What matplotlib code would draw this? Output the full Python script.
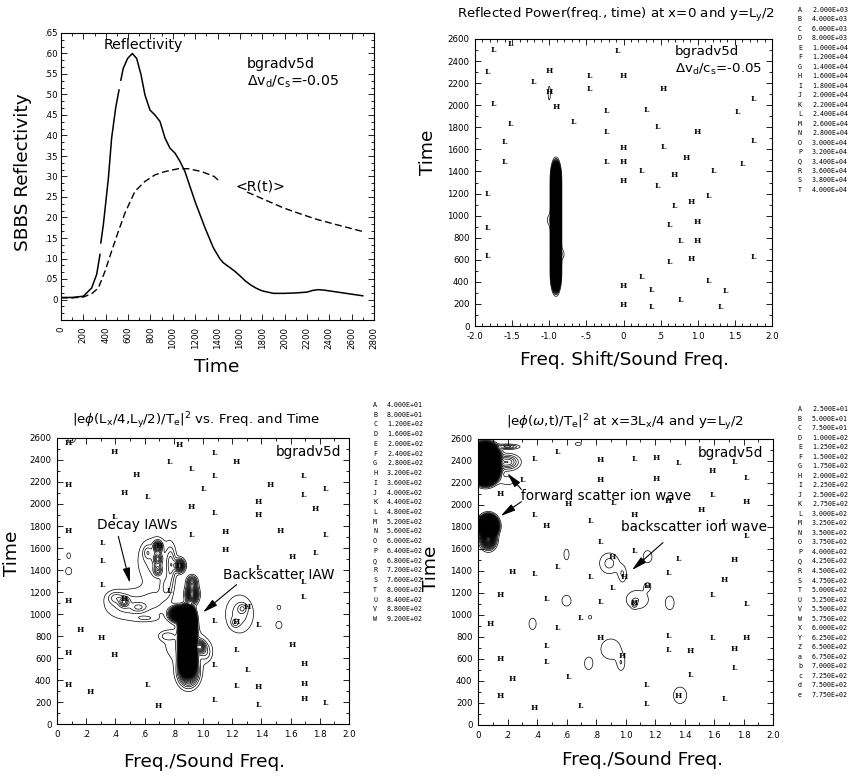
import numpy as np
import matplotlib
matplotlib.use("Agg")
import matplotlib.pyplot as plt
from matplotlib.ticker import MultipleLocator, FuncFormatter

# ---- reflectivity history -------------------------------------------------
refl_t = [0, 100, 200, 274, 319, 349, 356, 379, 424, 453, 489, 519, 535, 557, 596, 638,
          677, 716, 751, 796, 841, 886, 930, 975, 1020, 1064, 1109, 1199, 1288, 1363,
          1420, 1450, 1500, 1550, 1600, 1650, 1700, 1750, 1800, 1850, 1900, 1950, 2000,
          2100, 2200, 2250, 2300, 2350, 2400, 2450, 2500, 2600, 2700]
refl = [0.005, 0.005, 0.008, 0.028, 0.061, 0.11, 0.138, 0.183, 0.296, 0.394, 0.467,
        0.511, 0.535, 0.564, 0.588, 0.600, 0.588, 0.548, 0.499, 0.462, 0.450, 0.434,
        0.394, 0.369, 0.357, 0.337, 0.312, 0.239, 0.175, 0.126, 0.10, 0.09, 0.08, 0.07,
        0.058, 0.045, 0.035, 0.027, 0.021, 0.018, 0.015, 0.015, 0.015, 0.016, 0.018,
        0.022, 0.024, 0.023, 0.021, 0.019, 0.017, 0.013, 0.009]
# the solid trace is broken where the plotter left room for line labels
refl_breaks = [(349, 356), (519, 535)]
ravg_t = [0, 100, 200, 274, 334, 394, 453, 513, 572, 662, 751, 841, 930, 1049, 1139,
          1258, 1371, 1410, 1665, 1725, 1850, 1994, 2150, 2293, 2500, 2697]
ravg = [0.004, 0.004, 0.006, 0.014, 0.028, 0.069, 0.118, 0.166, 0.211, 0.264, 0.288,
        0.304, 0.312, 0.319, 0.319, 0.312, 0.300, 0.290, 0.262, 0.255, 0.240,
        0.223, 0.208, 0.195, 0.180, 0.166]
ravg_break = (1410, 1665)

# ---- contour level tables ----------------------------------------------------
lev_refl = [2000, 4000, 6000, 8000, 10000, 12000, 14000, 16000, 18000, 20000, 22000,
            24000, 26000, 28000, 30000, 32000, 34000, 36000, 38000, 40000]
lev_quarter = [40, 80, 120, 160, 200, 240, 280, 320, 360, 400, 440, 480, 520, 560, 600,
               640, 680, 720, 760, 800, 840, 880, 920]
lev_three = [25, 50, 75, 100, 125, 150, 175, 200, 225, 250, 275, 300, 325, 350, 375,
             400, 425, 450, 475, 500, 525, 550, 575, 600, 625, 650, 675, 700, 725, 750, 775]
tags_refl = list("ABCDEFGHIJKLMNOPQRST")
tags_quarter = list("ABCDEFGHIJKLMNOPQRSTUVW")
tags_three = list("ABCDEFGHIJKLMNOPQRSTUVWXYZabcde")

# ---- spectral peaks: (x, t, width in x, width in t, height) ------------------
refl_peaks = [
    (-0.91, 470, 0.035, 90, 3e5), (-0.91, 593, 0.035, 90, 3e5),
    (-0.91, 716, 0.035, 90, 3e5), (-0.91, 839, 0.035, 90, 3e5),
    (-0.91, 962, 0.035, 90, 3e5), (-0.91, 1085, 0.035, 90, 3e5),
    (-0.91, 1208, 0.035, 90, 3e5), (-0.91, 1330, 0.035, 90, 3e5),
    (-1.00, 2110, 0.03, 120, 2.6e3), (-1.00, 960, 0.04, 60, 3e3),
    (-0.82, 650, 0.03, 50, 3e3),
]

quarter_peaks = [
    # backscatter IAW column
    (0.895, 560, 0.03, 70, 9000), (0.895, 640, 0.03, 70, 9000),
    (0.895, 720, 0.03, 70, 9000), (0.895, 800, 0.03, 70, 9000),
    (0.895, 880, 0.03, 70, 9000), (0.895, 950, 0.03, 70, 9000),
    (0.90, 470, 0.06, 110, 500), (0.84, 1000, 0.05, 50, 1500),
    (0.925, 1180, 0.035, 70, 600), (0.925, 1290, 0.03, 50, 300),
    (0.84, 1440, 0.03, 50, 450), (0.98, 700, 0.03, 50, 350),
    (0.88, 720, 0.15, 180, 90), (0.75, 800, 0.05, 40, 80), (1.02, 650, 0.04, 80, 90),
    # decay IAWs
    (0.69, 1610, 0.025, 45, 350), (0.69, 1500, 0.025, 45, 250),
    (0.69, 1400, 0.025, 45, 200), (0.67, 1480, 0.12, 220, 100),
    (0.78, 1450, 0.03, 150, 150), (0.62, 1560, 0.03, 60, 90),
    (0.75, 1250, 0.04, 100, 100), (0.46, 1110, 0.03, 40, 200),
    (0.48, 1085, 0.16, 140, 100), (0.40, 1150, 0.05, 50, 90),
    (0.56, 1060, 0.05, 40, 90), (0.61, 960, 0.08, 30, 60),
    (0.68, 1120, 0.10, 120, 70),
    # side peaks
    (1.27, 1050, 0.03, 40, 90), (1.22, 920, 0.025, 35, 90),
    (1.25, 1000, 0.10, 180, 100), (1.52, 900, 0.025, 40, 80),
    (1.52, 1060, 0.02, 30, 60), (0.08, 1390, 0.025, 40, 80),
    (0.08, 1530, 0.02, 40, 60), (0.10, 2590, 0.04, 50, 60),
]

three_peaks = [
    # forward scatter near zero frequency
    (0.05, 2310, 0.05, 70, 6000), (0.05, 2380, 0.05, 70, 6000),
    (0.05, 2440, 0.05, 70, 6000), (0.20, 2390, 0.07, 60, 150),
    (0.20, 2530, 0.07, 20, 110), (0.20, 2220, 0.07, 50, 40),
    (0.07, 1810, 0.04, 60, 3000), (0.07, 1690, 0.04, 70, 500),
    # backscatter ion wave and scattered patches
    (0.89, 1470, 0.07, 100, 60), (0.98, 1370, 0.03, 80, 50),
    (1.08, 1140, 0.09, 100, 50), (1.06, 1100, 0.015, 30, 60),
    (1.15, 1260, 0.025, 40, 45), (0.90, 690, 0.08, 110, 50),
    (0.97, 560, 0.03, 80, 45), (1.37, 270, 0.058, 97, 45),
    (1.30, 1110, 0.043, 90, 40), (1.15, 1530, 0.043, 80, 40),
    (0.75, 560, 0.04, 80, 40), (0.37, 920, 0.035, 75, 40),
    (0.60, 1130, 0.045, 70, 40), (0.60, 1550, 0.025, 70, 40),
    (0.68, 2555, 0.03, 20, 40), (0.76, 980, 0.015, 25, 40),
]

# ---- highs and lows marked on the plots -------------------------------------
refl_Hx = [-1.0, 0.0, -0.91, 0.53, 0.99, 0.0, 0.0, 0.84, 0.0, 0.68, 0.91, 0.99, 0.99,
           0.91, 0.0, 0.0, -1.0]
refl_Ht = [2313, 2261, 1983, 2147, 1753, 1611, 1490, 1521, 1315, 1364, 1122, 946, 774,
           611, 366, 190, 2116]
refl_Lx = [-1.75, -1.52, -0.08, -1.83, -1.21, -0.46, -0.46, -1.75, -0.23, 0.31, -1.52,
           -0.68, 0.46, -0.23, -1.60, 0.53, -1.60, -0.23, 0.24, 0.46, -1.83, 0.69, -1.83,
           0.61, 0.76, -1.83, 0.61, 0.24, 0.38, 0.76, 0.38, 1.14, 1.37, 1.30, 1.21, 1.14,
           1.60, 1.53, 1.75, 1.75, 1.75]
refl_Lt = [2503, 2555, 2494, 2298, 2207, 2267, 2147, 2014, 1950, 1959, 1829, 1850, 1805,
           1753, 1663, 1623, 1484, 1490, 1400, 1264, 1194, 1085, 892, 913, 771, 638, 580,
           441, 330, 233, 175, 408, 314, 169, 1406, 1179, 1469, 1941, 2056, 1672, 623]

quarter_Hx = [0.08, 0.39, 0.84, 1.23, 0.54, 0.08, 0.46, 1.46, 1.38, 0.92, 1.38, 1.77,
              0.08, 1.15, 1.53, 1.15, 1.61, 0.08, 0.16, 0.30, 0.08, 0.39, 1.61, 1.69,
              1.69, 0.08, 0.23, 1.38, 1.69, 0.69, 0.46, 0.70, 0.84, 1.30, 1.23]
quarter_Ht = [2554, 2469, 2539, 2379, 2267, 2176, 2097, 2170, 2015, 1973, 1897, 1957,
              1751, 1745, 1751, 1585, 1515, 1115, 857, 782, 645, 624, 721, 545, 364, 358,
              288, 336, 227, 167, 1136, 1615, 1433, 1064, 924]
quarter_Lx = [0.77, 0.92, 1.08, 1.08, 1.00, 0.62, 1.69, 1.69, 1.84, 1.08, 0.39, 0.31,
              0.31, 0.92, 1.84, 1.77, 1.38, 1.69, 1.69, 0.31, 0.77, 1.08, 1.38, 1.23,
              1.08, 1.30, 0.62, 1.23, 1.38, 1.08, 1.84]
quarter_Lt = [2379, 2318, 2464, 2257, 2136, 2061, 2257, 2085, 2139, 1918, 1879, 1645,
              1485, 1715, 1715, 1554, 1418, 1291, 1157, 1261, 1206, 939, 903, 676, 533,
              494, 358, 342, 176, 215, 191]

three_Hx = [0.83, 1.21, 0.83, 1.21, 1.59, 1.82, 0.61, 1.29, 1.51, 1.06, 0.46, 0.15,
            1.74, 1.67, 0.15, 0.08, 0.83, 1.82, 1.44, 1.74, 0.15, 0.23, 0.15, 0.38, 0.91,
            0.99, 0.98, 1.36, 1.15, 1.06, 0.23]
three_Ht = [2409, 2424, 2230, 2236, 2312, 2030, 2006, 2036, 1951, 1909, 1809, 2097, 1503,
            1321, 1179, 915, 794, 788, 673, 691, 597, 418, 267, 152, 1530, 1348, 627, 267,
            1264, 1106, 1394]
three_Lx = [0.54, 0.38, 1.06, 1.36, 1.74, 1.82, 0.30, 1.59, 0.92, 0.38, 0.76, 1.67, 1.82,
            0.83, 1.06, 1.36, 0.54, 0.38, 0.76, 1.29, 0.91, 0.46, 0.83, 1.59, 1.82, 0.54,
            0.69, 1.29, 1.59, 1.29, 0.46, 0.46, 1.74, 1.44, 0.61, 1.14, 1.14, 0.69, 1.67]
three_Lt = [2485, 2415, 2415, 2379, 2394, 2242, 2224, 2091, 2015, 1909, 1854, 1848, 1718,
            1661, 1585, 1509, 1439, 1369, 1348, 1385, 1245, 1145, 1115, 1182, 1097, 879,
            970, 809, 794, 682, 718, 576, 518, 458, 433, 364, 188, 173, 233]

# ---- figure ----------------------------------------------------------------
W, H = 850, 783
fig = plt.figure(figsize=(W / 100, H / 100), dpi=100)
LABEL = 13.3
NOTE = 9.8
TICK = 6.2


def rect(l, t, r, b):
    return [l / W, 1 - b / H, (r - l) / W, (b - t) / H]


def ftext(x, y, s, **kw):
    return fig.text(x / W, 1 - y / H, s, **kw)


def dot_label(v, pos):
    if abs(v) < 1e-9:
        return "0"
    s = f"{v:.1f}"
    return s.replace("0.", ".") if abs(v) < 1 else s


def style(ax, xmaj, xmin, ymaj, ymin, pad=3):
    ax.xaxis.set_major_locator(MultipleLocator(xmaj))
    ax.xaxis.set_minor_locator(MultipleLocator(xmin))
    ax.yaxis.set_major_locator(MultipleLocator(ymaj))
    ax.yaxis.set_minor_locator(MultipleLocator(ymin))
    ax.tick_params(which="both", direction="in", top=True, right=True,
                   labelsize=TICK, width=0.6, pad=pad)
    ax.tick_params(which="major", length=4)
    ax.tick_params(which="minor", length=2.5)
    for s in ax.spines.values():
        s.set_linewidth(0.8)


def peak_field(xg, tg, peaks):
    X, T = np.meshgrid(xg, tg)
    Z = np.zeros_like(X)
    for x0, t0, wx, wt, a in peaks:
        Z += a * np.exp(-((X - x0) / wx) ** 2 - ((T - t0) / wt) ** 2)
    return X, T, Z


def contours(ax, X, T, Z, levels):
    ax.contour(X, T, Z, levels=levels, colors="k", linewidths=0.5)
    if Z.max() > levels[-1]:
        ax.contourf(X, T, Z, levels=[levels[-1], Z.max() * 1.01], colors="k")


def marks(ax, xs, ts, ch):
    for x, t in zip(xs, ts):
        ax.text(x, t, ch, ha="center", va="center", fontsize=5.5,
                family="DejaVu Serif", weight="bold")


def level_list(x, y0, dy, tags, levels):
    for i, (c, v) in enumerate(zip(tags, levels)):
        ftext(x, y0 + i * dy, c, fontsize=4.8, family="DejaVu Sans Mono", va="center")
        ftext(x + 14, y0 + i * dy, f"{v:.3E}", fontsize=4.8,
              family="DejaVu Sans Mono", va="center")


def broken(t, v, gaps):
    # insert NaN between the two samples bounding each gap
    tt, vv = [], []
    for a, b in zip(t, v):
        for g0, g1 in gaps:
            if tt and tt[-1] == g0 and a == g1:
                tt.append(np.nan)
                vv.append(np.nan)
        tt.append(a)
        vv.append(b)
    return tt, vv


arrow = dict(arrowstyle="-|>,head_length=0.9,head_width=0.22", color="k", lw=0.8,
             mutation_scale=10, shrinkA=0, shrinkB=0)

# panel 1: reflectivity vs time
ax1 = fig.add_axes(rect(61, 33, 374, 320))
ax1.plot(*broken(refl_t, refl, refl_breaks), color="k", lw=1.1)
ax1.plot(*broken(ravg_t, ravg, [ravg_break]), color="k", lw=1.0, dashes=(5, 2.5))
ax1.set_xlim(0, 2800)
ax1.set_ylim(-0.05, 0.65)
style(ax1, 200, 100, 0.05, 0.05 / 3)
ax1.tick_params(axis="x", labelrotation=90, pad=5)
ax1.tick_params(axis="y", pad=2)
ax1.yaxis.set_major_formatter(FuncFormatter(
    lambda v, p: "" if v < -1e-9 else ("0" if abs(v) < 1e-9 else f"{v:.2f}".replace("0.", "."))))
ax1.text(380, 0.62, "Reflectivity", fontsize=10.2, va="center")
ax1.text(1665, 0.575, "bgradv5d", fontsize=10.2, va="center")
ax1.text(1665, 0.531, r"$\Delta$v$_{\rm d}$/c$_{\rm s}$=-0.05", fontsize=10.2, va="center")
ax1.text(1560, 0.276, "<R(t)>", fontsize=10.2, va="center")
ftext(217, 367, "Time", fontsize=LABEL, ha="center", va="center")
ftext(23, 172, "SBBS Reflectivity", fontsize=LABEL, ha="center", va="center", rotation=90)

# panel 2: reflected power spectrum
ax2 = fig.add_axes(rect(475, 39, 772, 326))
X, T, Z = peak_field(np.linspace(-2, 2, 900), np.linspace(0, 2600, 600), refl_peaks)
contours(ax2, X, T, Z, lev_refl)
marks(ax2, refl_Hx, refl_Ht, "H")
marks(ax2, refl_Lx, refl_Lt, "L")
ax2.set_xlim(-2, 2)
ax2.set_ylim(0, 2600)
style(ax2, 0.5, 0.1, 200, 100, pad=4)
ax2.xaxis.set_major_formatter(FuncFormatter(dot_label))
ax2.text(0.687, 2488, "bgradv5d", fontsize=9.6, va="center")
ax2.text(0.687, 2322, r"$\Delta$v$_{\rm d}$/c$_{\rm s}$=-0.05", fontsize=9.6, va="center")
ftext(616, 15, r"Reflected Power(freq., time) at x=0 and y=L$_{\rm y}$/2",
      fontsize=9.6, ha="center", va="center")
ftext(625, 360, "Freq. Shift/Sound Freq.", fontsize=LABEL, ha="center", va="center")
ftext(428, 152, "Time", fontsize=LABEL, ha="center", va="center", rotation=90)
level_list(798, 10, 9.47, tags_refl, lev_refl)

# panel 3: ion wave spectrum at Lx/4
ax3 = fig.add_axes(rect(57, 438, 349, 724))
X, T, Z = peak_field(np.linspace(0, 2, 600), np.linspace(0, 2600, 600), quarter_peaks)
contours(ax3, X, T, Z, lev_quarter)
marks(ax3, quarter_Hx, quarter_Ht, "H")
marks(ax3, quarter_Lx, quarter_Lt, "L")
ax3.set_xlim(0, 2)
ax3.set_ylim(0, 2600)
style(ax3, 0.2, 0.1, 200, 100, pad=4)
ax3.xaxis.set_major_formatter(FuncFormatter(dot_label))
ax3.text(1.499, 2470, "bgradv5d", fontsize=9.8, va="center")
ax3.text(0.273, 1812, "Decay IAWs", fontsize=NOTE, va="center")
ax3.annotate("", xy=(0.50, 1282), xytext=(0.42, 1706), arrowprops=arrow)
ax3.text(1.134, 1357, "Backscatter IAW", fontsize=NOTE, va="center")
ax3.annotate("", xy=(1.00, 1015), xytext=(1.23, 1267), arrowprops=arrow)
ftext(196, 421, r"|e$\phi$(L$_{\rm x}$/4,L$_{\rm y}$/2)/T$_{\rm e}$|$^2$ vs. Freq. and Time",
      fontsize=9.6, ha="center", va="center")
ftext(205, 762, "Freq./Sound Freq.", fontsize=LABEL, ha="center", va="center")
ftext(12, 553, "Time", fontsize=LABEL, ha="center", va="center", rotation=90)
level_list(373, 405, 9.73, tags_quarter, lev_quarter)

# panel 4: ion wave spectrum at 3Lx/4
ax4 = fig.add_axes(rect(478, 439, 773, 725))
X, T, Z = peak_field(np.linspace(0, 2, 600), np.linspace(0, 2600, 600), three_peaks)
contours(ax4, X, T, Z, lev_three)
marks(ax4, three_Hx, three_Ht, "H")
marks(ax4, three_Lx, three_Lt, "L")
ax4.set_xlim(0, 2)
ax4.set_ylim(0, 2600)
style(ax4, 0.2, 0.1, 200, 100, pad=4)
ax4.xaxis.set_major_formatter(FuncFormatter(dot_label))
ax4.text(1.492, 2476, "bgradv5d", fontsize=9.8, va="center")
ax4.text(0.294, 2082, "forward scatter ion wave", fontsize=NOTE, va="center")
ax4.annotate("", xy=(0.199, 2288), xytext=(0.294, 2142), arrowprops=arrow)
ax4.annotate("", xy=(0.154, 1900), xytext=(0.294, 2030), arrowprops=arrow)
ax4.text(0.972, 1803, "backscatter ion wave", fontsize=NOTE, va="center")
ax4.annotate("", xy=(1.044, 1409), xytext=(1.254, 1658), arrowprops=arrow)
ftext(625, 423, r"|e$\phi$($\omega$,t)/T$_{\rm e}$|$^2$ at x=3L$_{\rm x}$/4 and y=L$_{\rm y}$/2",
      fontsize=9.6, ha="center", va="center")
ftext(642, 760, "Freq./Sound Freq.", fontsize=LABEL, ha="center", va="center")
ftext(431, 568, "Time", fontsize=LABEL, ha="center", va="center", rotation=90)
level_list(798, 409, 9.53, tags_three, lev_three)

fig.savefig("out.png", dpi=100)
